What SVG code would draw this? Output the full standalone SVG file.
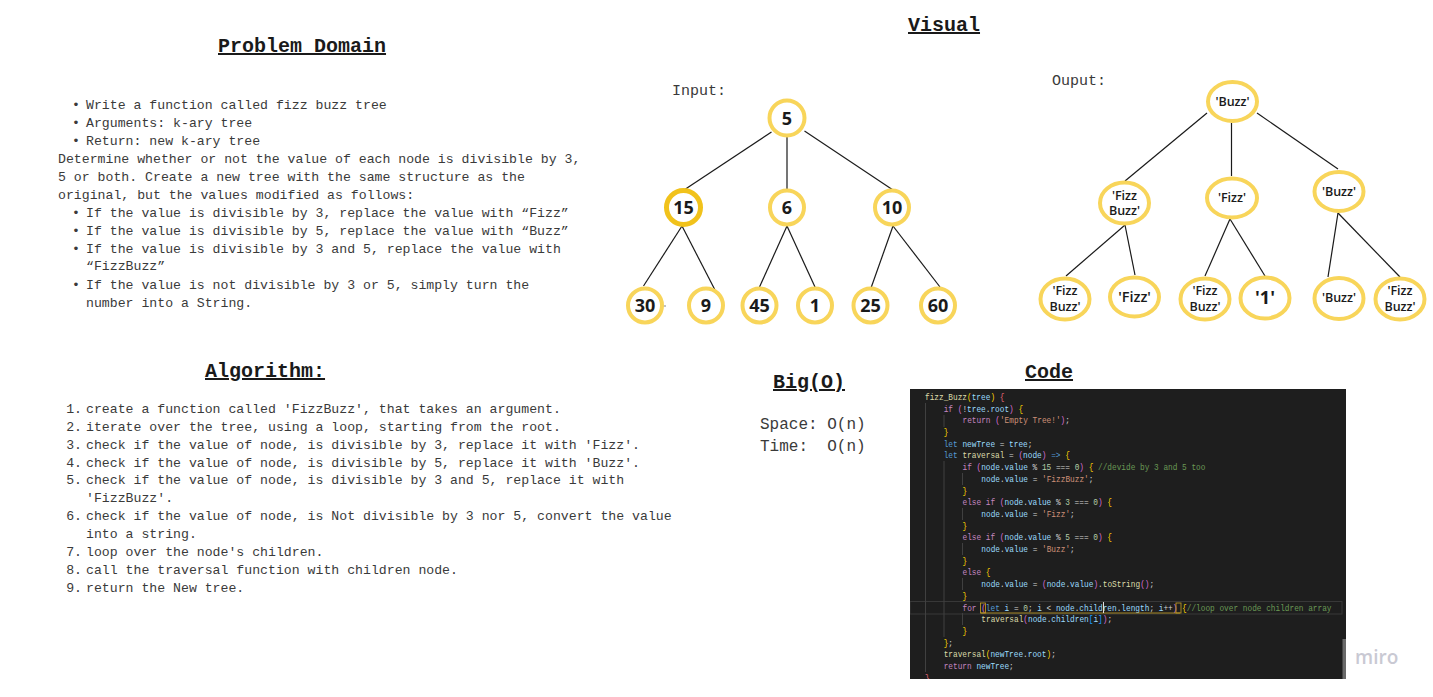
<svg xmlns="http://www.w3.org/2000/svg" width="1433" height="697" viewBox="0 0 1433 697">
<defs>
<style>
.h{font-family:"Liberation Mono","DejaVu Sans Mono",monospace;font-weight:bold;font-size:20px;fill:#1a1a1a;text-decoration:underline}
.b{font-family:"Liberation Mono","DejaVu Sans Mono",monospace;font-size:13.2px;fill:#3a3a3a}
.lbl{font-family:"Liberation Mono","DejaVu Sans Mono",monospace;font-size:15px;fill:#3a3a3a}
.bo{font-family:"Liberation Mono","DejaVu Sans Mono",monospace;font-size:16px;fill:#3a3a3a}
.nc{fill:#ffffff;stroke:#f8d55a;stroke-width:4}
.nt{font-family:"Open Sans","Noto Sans",sans-serif;font-weight:bold;font-size:18px;fill:#1a1a1a;text-anchor:middle}
.ot{font-family:"Open Sans","Noto Sans",sans-serif;font-weight:600;font-size:12.5px;fill:#1a1a1a;text-anchor:middle}
.edge{stroke:#1a1a1a;stroke-width:1.2;fill:none}
.code{font-family:"Liberation Mono","DejaVu Sans Mono",monospace;font-size:9px;fill:#d4d4d4;white-space:pre}
.k{fill:#c586c0}.l{fill:#569cd6}.v{fill:#9cdcfe}.f{fill:#dcdcaa}.s{fill:#ce9178}.n{fill:#b5cea8}.c{fill:#6a9955}
.y{fill:#ffd700}.p{fill:#da70d6}.r{fill:#e8677a}.bl{fill:#179fff}
.g{stroke:#404040;stroke-width:1}
</style>
<clipPath id="codeclip"><rect x="910" y="389" width="436" height="290"/></clipPath>
</defs>
<rect x="0" y="0" width="1433" height="697" fill="#ffffff"/>

<!-- Problem Domain -->
<g id="problem-domain">
<text class="h" x="218" y="52">Problem Domain</text>
<text class="b" x="72" y="108.5">•</text><text class="b" x="86" y="108.5">Write a function called fizz buzz tree</text>
<text class="b" x="72" y="126.5">•</text><text class="b" x="86" y="126.5">Arguments: k-ary tree</text>
<text class="b" x="72" y="144.5">•</text><text class="b" x="86" y="144.5">Return: new k-ary tree</text>
<text class="b" x="58" y="162.5">Determine whether or not the value of each node is divisible by 3,</text>
<text class="b" x="58" y="180.5">5 or both. Create a new tree with the same structure as the</text>
<text class="b" x="58" y="198.5">original, but the values modified as follows:</text>
<text class="b" x="72" y="216.5">•</text><text class="b" x="86" y="216.5">If the value is divisible by 3, replace the value with “Fizz”</text>
<text class="b" x="72" y="234.5">•</text><text class="b" x="86" y="234.5">If the value is divisible by 5, replace the value with “Buzz”</text>
<text class="b" x="72" y="252.5">•</text><text class="b" x="86" y="252.5">If the value is divisible by 3 and 5, replace the value with</text>
<text class="b" x="86" y="270">“FizzBuzz”</text>
<text class="b" x="72" y="288.5">•</text><text class="b" x="86" y="288.5">If the value is not divisible by 3 or 5, simply turn the</text>
<text class="b" x="86" y="306.5">number into a String.</text>
</g>

<!-- Algorithm -->
<g id="algorithm">
<text class="h" x="205" y="377">Algorithm:</text>
<g class="b">
<text x="82" y="412.5" text-anchor="end">1.</text><text x="86" y="412.5">create a function called 'FizzBuzz', that takes an argument.</text>
<text x="82" y="430.5" text-anchor="end">2.</text><text x="86" y="430.5">iterate over the tree, using a loop, starting from the root.</text>
<text x="82" y="448.5" text-anchor="end">3.</text><text x="86" y="448.5">check if the value of node, is divisible by 3, replace it with 'Fizz'.</text>
<text x="82" y="466.5" text-anchor="end">4.</text><text x="86" y="466.5">check if the value of node, is divisible by 5, replace it with 'Buzz'.</text>
<text x="82" y="484" text-anchor="end">5.</text><text x="86" y="484">check if the value of node, is divisible by 3 and 5, replace it with</text>
<text x="86" y="501.5">'FizzBuzz'.</text>
<text x="82" y="519.5" text-anchor="end">6.</text><text x="86" y="519.5">check if the value of node, is Not divisible by 3 nor 5, convert the value</text>
<text x="86" y="537.5">into a string.</text>
<text x="82" y="555.5" text-anchor="end">7.</text><text x="86" y="555.5">loop over the node's children.</text>
<text x="82" y="573.5" text-anchor="end">8.</text><text x="86" y="573.5">call the traversal function with children node.</text>
<text x="82" y="591.5" text-anchor="end">9.</text><text x="86" y="591.5">return the New tree.</text>
</g>
</g>

<!-- Big O -->
<g id="big-o">
<text class="h" x="773" y="388">Big(O)</text>
<text class="bo" x="760" y="428.5" xml:space="preserve">Space: O(n)</text>
<text class="bo" x="760" y="450.5" xml:space="preserve">Time:  O(n)</text>
</g>

<!-- Visual title and labels -->
<g id="visual-title"><text class="h" x="908" y="31">Visual</text></g>
<g id="input-label"><text class="lbl" x="672" y="95">Input:</text></g>
<g id="output-label"><text class="lbl" x="1052" y="85">Ouput:</text></g>

<!-- connectors -->
<g id="connectors" class="edge">
<line x1="771.5" y1="132" x2="684" y2="190"/>
<line x1="787" y1="136" x2="787" y2="189"/>
<line x1="804.5" y1="131" x2="893" y2="190"/>
<line x1="682" y1="226" x2="643.5" y2="286"/>
<line x1="682" y1="226" x2="715" y2="290"/>
<line x1="787" y1="226" x2="759.5" y2="287"/>
<line x1="787" y1="226" x2="815" y2="287"/>
<line x1="893" y1="226" x2="871" y2="288"/>
<line x1="893" y1="226" x2="940" y2="287"/>
<line x1="662" y1="306" x2="666" y2="306" stroke="#999"/>
<line x1="1207" y1="113" x2="1125" y2="181"/>
<line x1="1231.5" y1="123" x2="1231.5" y2="176"/>
<line x1="1257" y1="113" x2="1338" y2="169"/>
<line x1="1125" y1="225" x2="1066" y2="276"/>
<line x1="1125" y1="225" x2="1135" y2="275"/>
<line x1="1230" y1="219" x2="1205" y2="276"/>
<line x1="1230" y1="219" x2="1265" y2="276"/>
<line x1="1338" y1="213" x2="1328" y2="277"/>
<line x1="1338" y1="213" x2="1400" y2="277"/>
</g>

<!-- input tree nodes -->
<g id="in-5"><circle class="nc" cx="787" cy="118" r="17.5"/><text class="nt" x="787" y="124.5">5</text></g>
<g id="in-15"><circle class="nc" cx="683.5" cy="207.5" r="17" style="stroke:#f1c21b;stroke-width:5"/><text class="nt" x="683.5" y="214">15</text></g>
<g id="in-6"><circle class="nc" cx="787" cy="207.5" r="17"/><text class="nt" x="787" y="214">6</text></g>
<g id="in-10"><circle class="nc" cx="892" cy="207.5" r="17"/><text class="nt" x="892" y="214">10</text></g>
<g id="in-30"><circle class="nc" cx="645" cy="305.5" r="17"/><text class="nt" x="645" y="312">30</text></g>
<g id="in-9"><circle class="nc" cx="706" cy="305.5" r="17"/><text class="nt" x="706" y="312">9</text></g>
<g id="in-45"><circle class="nc" cx="759.5" cy="305.5" r="17"/><text class="nt" x="759.5" y="312">45</text></g>
<g id="in-1"><circle class="nc" cx="815" cy="305.5" r="17"/><text class="nt" x="815" y="312">1</text></g>
<g id="in-25"><circle class="nc" cx="870.5" cy="305.5" r="17"/><text class="nt" x="870.5" y="312">25</text></g>
<g id="in-60"><circle class="nc" cx="938" cy="305.5" r="17"/><text class="nt" x="938" y="312">60</text></g>

<!-- output tree nodes -->
<g id="out-root"><ellipse class="nc" cx="1232.5" cy="101.5" rx="24.5" ry="19.5"/><text class="ot" x="1232.5" y="105.5">'Buzz'</text></g>
<g id="out-fizzbuzz-l2"><ellipse class="nc" cx="1124.5" cy="203" rx="24.5" ry="20.5"/><text class="ot" x="1124.5" y="199.5">'Fizz</text><text class="ot" x="1124.5" y="215">Buzz'</text></g>
<g id="out-fizz-l2"><ellipse class="nc" cx="1232" cy="198" rx="25" ry="19.5"/><text class="ot" x="1232" y="202">'Fizz'</text></g>
<g id="out-buzz-l2"><ellipse class="nc" cx="1339" cy="191.5" rx="24.5" ry="19.5"/><text class="ot" x="1339" y="196">'Buzz'</text></g>
<g id="out-fizzbuzz-a"><ellipse class="nc" cx="1065" cy="299" rx="24.5" ry="20.5"/><text class="ot" x="1065" y="294.5">'Fizz</text><text class="ot" x="1065" y="310.5">Buzz'</text></g>
<g id="out-fizz"><ellipse class="nc" cx="1134.5" cy="297" rx="24.5" ry="19.5"/><text class="ot" x="1134.5" y="302" style="font-size:14.5px">'Fizz'</text></g>
<g id="out-fizzbuzz-b"><ellipse class="nc" cx="1205" cy="299" rx="24.5" ry="20.5"/><text class="ot" x="1205" y="294.5">'Fizz</text><text class="ot" x="1205" y="310.5">Buzz'</text></g>
<g id="out-1"><ellipse class="nc" cx="1265" cy="298" rx="24.5" ry="20.5"/><text class="ot" x="1265" y="304" style="font-size:18px;font-weight:bold">'1'</text></g>
<g id="out-buzz"><ellipse class="nc" cx="1339" cy="298.5" rx="24.5" ry="20.5"/><text class="ot" x="1339" y="302">'Buzz'</text></g>
<g id="out-fizzbuzz-c"><ellipse class="nc" cx="1400" cy="299" rx="24.5" ry="20.5"/><text class="ot" x="1400" y="294.5">'Fizz</text><text class="ot" x="1400" y="310.5">Buzz'</text></g>

<!-- Code -->
<g id="code-title"><text class="h" x="1025" y="378">Code</text></g>
<g id="code-block">
<rect x="910" y="389" width="436" height="290" fill="#1e1e1e"/>
<g clip-path="url(#codeclip)">
<rect x="910" y="601.5" width="432" height="12.5" fill="none" stroke="#383838" stroke-width="1"/>
<g class="g">
<line x1="925.5" y1="403" x2="925.5" y2="672"/>
<line x1="944" y1="415" x2="944" y2="427"/>
<line x1="944" y1="461" x2="944" y2="637"/>
<line x1="962.5" y1="473" x2="962.5" y2="485"/>
<line x1="962.5" y1="508" x2="962.5" y2="520"/>
<line x1="962.5" y1="543" x2="962.5" y2="555"/>
<line x1="962.5" y1="578" x2="962.5" y2="590"/>
<line x1="962.5" y1="613" x2="962.5" y2="625"/>
</g>
<g class="code" transform="matrix(0.866,0,0,1,123.95,0)">
<text x="925" y="400"><tspan class="f">fizz_Buzz</tspan><tspan class="y">(</tspan><tspan class="v">tree</tspan><tspan class="y">)</tspan> <tspan class="r">{</tspan></text>
<text x="946.6" y="411.7"><tspan class="k">if</tspan> <tspan class="p">(</tspan>!<tspan class="v">tree</tspan>.<tspan class="v">root</tspan><tspan class="p">)</tspan> <tspan class="y">{</tspan></text>
<text x="968.3" y="423.4"><tspan class="k">return</tspan> <tspan class="p">(</tspan><tspan class="s">'Empty Tree!'</tspan><tspan class="p">)</tspan>;</text>
<text x="946.6" y="435.1"><tspan class="y">}</tspan></text>
<text x="946.6" y="446.8"><tspan class="l">let</tspan> <tspan class="v">newTree</tspan> = <tspan class="v">tree</tspan>;</text>
<text x="946.6" y="458.5"><tspan class="l">let</tspan> <tspan class="f">traversal</tspan> = <tspan class="p">(</tspan><tspan class="v">node</tspan><tspan class="p">)</tspan> <tspan class="l">=&gt;</tspan> <tspan class="y">{</tspan></text>
<text x="968.3" y="470.2"><tspan class="k">if</tspan> <tspan class="p">(</tspan><tspan class="v">node</tspan>.<tspan class="v">value</tspan> % <tspan class="n">15</tspan> === <tspan class="n">0</tspan><tspan class="p">)</tspan> <tspan class="y">{</tspan> <tspan class="c">//devide by 3 and 5 too</tspan></text>
<text x="990" y="481.9"><tspan class="v">node</tspan>.<tspan class="v">value</tspan> = <tspan class="s">'FizzBuzz'</tspan>;</text>
<text x="968.3" y="493.6"><tspan class="y">}</tspan></text>
<text x="968.3" y="505.3"><tspan class="k">else if</tspan> <tspan class="p">(</tspan><tspan class="v">node</tspan>.<tspan class="v">value</tspan> % <tspan class="n">3</tspan> === <tspan class="n">0</tspan><tspan class="p">)</tspan> <tspan class="y">{</tspan></text>
<text x="990" y="517"><tspan class="v">node</tspan>.<tspan class="v">value</tspan> = <tspan class="s">'Fizz'</tspan>;</text>
<text x="968.3" y="528.7"><tspan class="y">}</tspan></text>
<text x="968.3" y="540.4"><tspan class="k">else if</tspan> <tspan class="p">(</tspan><tspan class="v">node</tspan>.<tspan class="v">value</tspan> % <tspan class="n">5</tspan> === <tspan class="n">0</tspan><tspan class="p">)</tspan> <tspan class="y">{</tspan></text>
<text x="990" y="552.1"><tspan class="v">node</tspan>.<tspan class="v">value</tspan> = <tspan class="s">'Buzz'</tspan>;</text>
<text x="968.3" y="563.8"><tspan class="y">}</tspan></text>
<text x="968.3" y="575.5"><tspan class="k">else</tspan> <tspan class="y">{</tspan></text>
<text x="990" y="587.2"><tspan class="v">node</tspan>.<tspan class="v">value</tspan> = <tspan class="p">(</tspan><tspan class="v">node</tspan>.<tspan class="v">value</tspan><tspan class="p">)</tspan>.<tspan class="f">toString</tspan><tspan class="p">()</tspan>;</text>
<text x="968.3" y="598.9"><tspan class="y">}</tspan></text>
<text x="968.3" y="610.6"><tspan class="k">for</tspan> <tspan class="p">(</tspan><tspan class="l">let</tspan> <tspan class="v">i</tspan> = <tspan class="n">0</tspan>; <tspan class="v">i</tspan> &lt; <tspan class="v">node</tspan>.<tspan class="v">children</tspan>.<tspan class="v">length</tspan>; <tspan class="v">i</tspan>++<tspan class="p">)</tspan> <tspan class="y">{</tspan><tspan class="c">//loop over node children array</tspan></text>
<text x="990" y="622.3"><tspan class="f">traversal</tspan><tspan class="p">(</tspan><tspan class="v">node</tspan>.<tspan class="v">children</tspan><tspan class="bl">[</tspan><tspan class="v">i</tspan><tspan class="bl">]</tspan><tspan class="p">)</tspan>;</text>
<text x="968.3" y="634"><tspan class="y">}</tspan></text>
<text x="946.6" y="645.7"><tspan class="y">}</tspan>;</text>
<text x="946.6" y="657.4"><tspan class="f">traversal</tspan><tspan class="y">(</tspan><tspan class="v">newTree</tspan>.<tspan class="v">root</tspan><tspan class="y">)</tspan>;</text>
<text x="946.6" y="669.1"><tspan class="k">return</tspan> <tspan class="v">newTree</tspan>;</text>
<text x="925" y="680.8"><tspan class="r">}</tspan></text>
</g>
<rect x="980.5" y="603" width="5" height="10" fill="none" stroke="#c9a227" stroke-width="0.8"/>
<rect x="1176" y="603" width="5" height="10" fill="none" stroke="#c9a227" stroke-width="0.8"/>
<line x1="981" y1="613" x2="1180" y2="613" stroke="#c9a227" stroke-width="0.8"/>
<line x1="1103.5" y1="602" x2="1103.5" y2="613" stroke="#e0e0e0" stroke-width="1"/>
</g>
<rect x="1342.5" y="639" width="3.5" height="40" fill="#6a6a6a"/>
</g>

<!-- miro watermark -->
<g id="miro-logo"><text x="1355" y="664" style="font-family:'Open Sans','Noto Sans',sans-serif;font-weight:600;font-size:19px;fill:#c9c9d3">miro</text></g>
</svg>
